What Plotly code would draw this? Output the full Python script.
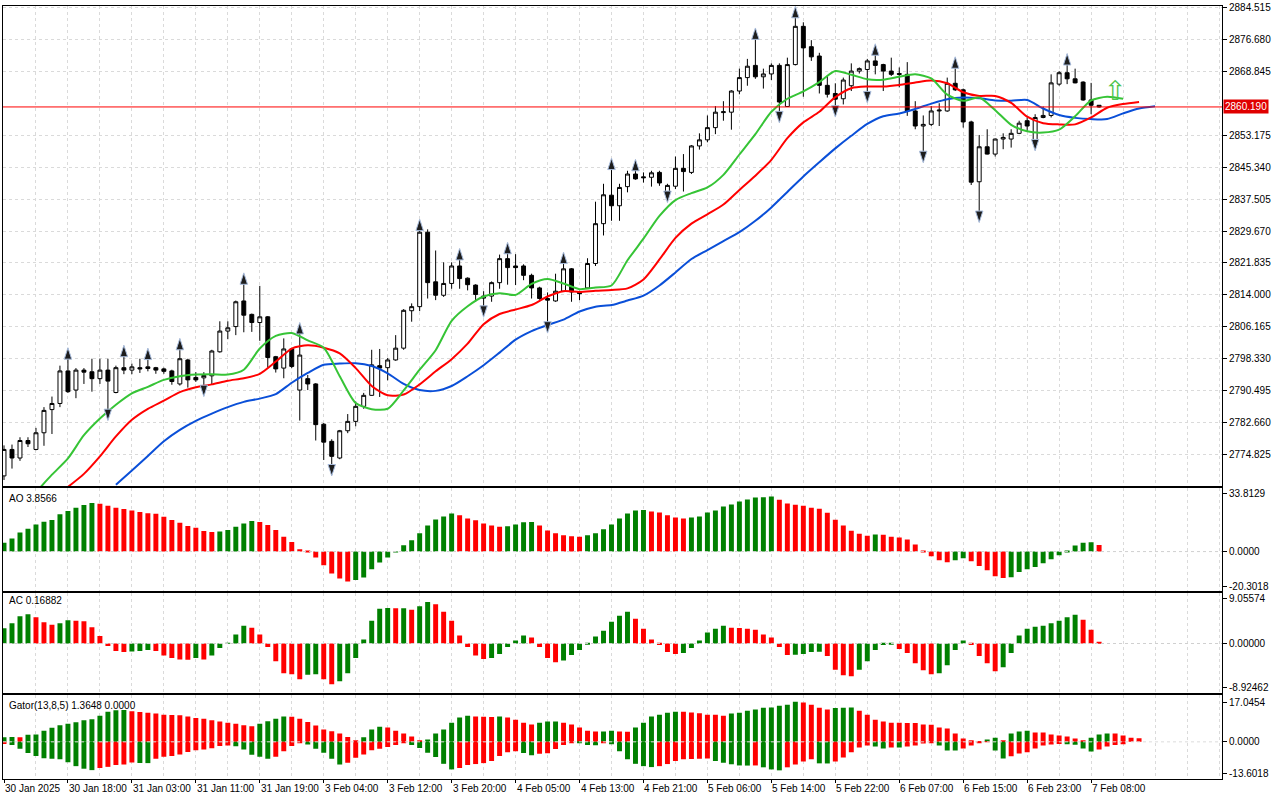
import plotly.graph_objects as go
from plotly.subplots import make_subplots

# hourly XAUUSD candles, bar 0 = 30 Jan 10:00
opens = [
    2769.5, 2776.0, 2773.9, 2778.2, 2776.0, 2780.1, 2785.8, 2787.3, 2795.3, 2790.6,
    2795.5, 2795.1, 2793.4, 2795.5, 2790.0, 2796.1, 2795.5, 2796.1, 2796.3, 2796.1,
    2795.8, 2795.3, 2792.1, 2798.0, 2793.7, 2793.6, 2794.1, 2800.0, 2805.1, 2806.2,
    2812.5, 2809.2, 2807.2, 2808.6, 2798.8, 2796.0, 2800.7, 2790.6, 2793.4, 2792.1,
    2782.2, 2778.0, 2773.9, 2780.6, 2782.9, 2786.6, 2789.3, 2796.6, 2796.1, 2798.0,
    2800.9, 2810.1, 2811.1, 2829.4, 2817.2, 2813.9, 2816.8, 2821.1, 2818.1, 2816.4,
    2813.2, 2813.7, 2817.0, 2822.9, 2821.1, 2821.1, 2818.8, 2815.7, 2813.1, 2812.5,
    2814.9, 2820.4, 2814.7, 2815.7, 2821.7, 2831.5, 2838.5, 2835.9, 2840.6, 2843.7,
    2843.0, 2842.9, 2844.1, 2839.4, 2840.7, 2845.1, 2844.1, 2850.6, 2852.1, 2855.1,
    2858.8, 2858.9, 2864.1, 2867.4, 2870.4, 2867.6, 2868.3, 2870.4, 2860.3, 2870.6,
    2880.0, 2875.0, 2872.7, 2865.5, 2863.5, 2862.2, 2865.4, 2869.0, 2869.4, 2871.5,
    2870.6, 2869.0, 2868.4, 2868.2, 2859.2, 2855.5, 2855.9, 2859.2, 2859.2, 2866.0,
    2864.4, 2856.5, 2841.8, 2850.4, 2848.6, 2852.3, 2852.3, 2853.7, 2856.8, 2851.6,
    2857.6, 2858.1, 2865.8, 2868.6, 2867.1, 2866.3, 2861.9, 2860.6,
]
highs = [
    2777.0, 2777.2, 2779.0, 2779.0, 2781.3, 2786.4, 2789.0, 2796.6, 2798.6, 2796.0,
    2796.0, 2798.3, 2798.3, 2798.3, 2796.6, 2799.2, 2797.1, 2798.3, 2798.5, 2796.3,
    2796.1, 2795.6, 2800.9, 2798.3, 2795.0, 2795.0, 2800.5, 2807.5, 2807.5, 2812.6,
    2817.0, 2809.4, 2816.2, 2808.8, 2799.0, 2803.3, 2801.0, 2804.8, 2794.3, 2792.3,
    2782.5, 2778.5, 2780.8, 2784.7, 2787.8, 2789.9, 2800.5, 2800.7, 2798.5, 2804.1,
    2810.5, 2811.9, 2830.2, 2830.1, 2824.9, 2822.0, 2822.0, 2823.0, 2818.3, 2816.6,
    2814.9, 2817.3, 2823.9, 2824.5, 2824.0, 2821.5, 2819.2, 2816.0, 2814.6, 2819.2,
    2822.1, 2820.6, 2815.0, 2823.0, 2836.9, 2841.3, 2845.2, 2841.3, 2844.5, 2844.9,
    2844.1, 2844.5, 2844.5, 2841.3, 2848.0, 2848.6, 2850.8, 2853.7, 2858.1, 2860.4,
    2861.6, 2864.3, 2869.6, 2872.0, 2877.2, 2869.6, 2870.9, 2870.9, 2872.3, 2882.5,
    2881.0, 2876.6, 2873.5, 2867.9, 2866.0, 2867.4, 2870.9, 2869.9, 2872.0, 2873.3,
    2870.8, 2872.3, 2869.9, 2871.2, 2861.6, 2858.1, 2860.4, 2861.1, 2867.4, 2870.1,
    2864.7, 2856.8, 2853.3, 2854.7, 2852.4, 2853.7, 2854.7, 2856.8, 2857.6, 2858.4,
    2860.3, 2868.2, 2869.0, 2870.9, 2869.6, 2866.5, 2866.1, 2860.6,
]
lows = [
    2768.5, 2771.3, 2773.2, 2776.6, 2775.8, 2776.9, 2779.8, 2786.4, 2789.9, 2788.6,
    2792.1, 2790.2, 2792.1, 2785.2, 2789.8, 2794.5, 2794.5, 2794.8, 2795.2, 2794.6,
    2794.6, 2791.9, 2791.7, 2791.2, 2792.6, 2791.1, 2791.9, 2799.8, 2803.1, 2804.1,
    2804.8, 2804.9, 2802.7, 2796.1, 2794.9, 2793.5, 2796.0, 2783.1, 2790.6, 2778.2,
    2773.4, 2771.6, 2773.6, 2780.0, 2781.7, 2786.0, 2789.2, 2788.9, 2793.0, 2797.8,
    2800.5, 2807.4, 2810.0, 2813.1, 2812.7, 2813.5, 2815.5, 2815.5, 2815.1, 2812.3,
    2810.6, 2812.3, 2815.5, 2816.5, 2816.4, 2817.6, 2813.1, 2812.8, 2806.7, 2812.3,
    2814.7, 2812.3, 2812.7, 2815.5, 2821.1, 2828.6, 2832.2, 2832.2, 2839.2, 2842.3,
    2841.6, 2840.6, 2840.8, 2838.8, 2840.0, 2839.4, 2843.7, 2849.7, 2851.5, 2853.5,
    2856.8, 2854.6, 2863.3, 2865.4, 2867.1, 2864.7, 2866.8, 2858.4, 2860.3, 2870.4,
    2862.7, 2871.5, 2863.5, 2862.5, 2859.8, 2860.8, 2864.1, 2868.4, 2863.3, 2868.2,
    2864.1, 2867.8, 2865.0, 2858.0, 2854.7, 2848.6, 2855.5, 2855.5, 2859.0, 2864.1,
    2855.1, 2841.0, 2833.9, 2848.5, 2848.0, 2849.8, 2850.2, 2853.5, 2854.3, 2851.5,
    2857.4, 2857.6, 2865.4, 2865.8, 2866.0, 2861.7, 2858.4, 2860.0,
]
closes = [
    2776.0, 2773.9, 2778.2, 2777.4, 2780.1, 2785.6, 2787.3, 2795.3, 2790.2, 2795.5,
    2795.0, 2793.4, 2795.5, 2792.8, 2796.1, 2795.5, 2796.3, 2795.8, 2795.9, 2795.5,
    2795.2, 2792.7, 2798.3, 2793.1, 2793.1, 2794.2, 2800.2, 2805.1, 2805.9, 2812.3,
    2809.0, 2807.2, 2808.6, 2798.6, 2795.8, 2800.7, 2796.4, 2799.2, 2792.1, 2782.1,
    2777.8, 2774.3, 2780.6, 2782.9, 2786.6, 2789.3, 2796.8, 2796.0, 2798.0, 2800.9,
    2810.2, 2811.1, 2829.4, 2817.0, 2813.9, 2816.8, 2821.1, 2818.0, 2816.5, 2814.1,
    2813.7, 2817.0, 2822.9, 2820.7, 2820.7, 2818.8, 2815.7, 2813.1, 2812.7, 2814.9,
    2820.4, 2814.7, 2814.3, 2821.7, 2831.5, 2838.6, 2835.9, 2840.4, 2843.7, 2842.5,
    2842.8, 2844.0, 2841.5, 2840.9, 2845.1, 2844.3, 2850.6, 2852.1, 2855.1, 2858.9,
    2859.0, 2864.1, 2867.4, 2870.2, 2867.6, 2868.3, 2870.4, 2861.4, 2870.6, 2880.0,
    2874.7, 2872.5, 2865.5, 2863.3, 2862.1, 2866.8, 2869.0, 2869.6, 2871.5, 2870.4,
    2869.0, 2868.2, 2868.2, 2859.2, 2855.5, 2855.9, 2859.2, 2859.4, 2866.0, 2864.4,
    2856.5, 2841.7, 2850.4, 2848.6, 2852.3, 2852.7, 2853.7, 2856.2, 2855.5, 2857.6,
    2858.1, 2866.1, 2868.6, 2867.1, 2866.1, 2861.9, 2860.6, 2860.19,
]
current_price = 2860.19

# alligator lines, one value every 2 bars (shifted lines run past the last candle)
lips_start = 4
lips = [
    2765.5, 2769.8, 2773.8, 2779.5, 2783.6, 2787.0, 2789.8, 2791.4, 2793.1, 2794.0,
    2794.4, 2794.5, 2794.4, 2795.6, 2800.8, 2803.9, 2804.6, 2802.8, 2801.0, 2794.0,
    2787.4, 2785.9, 2786.0, 2790.5, 2795.6, 2800.4, 2807.6, 2811.2, 2813.6, 2814.4,
    2814.0, 2816.7, 2817.9, 2816.8, 2815.4, 2815.8, 2816.3, 2822.5, 2827.8, 2833.4,
    2837.3, 2839.0, 2840.4, 2843.5, 2848.5, 2853.5, 2859.0, 2862.2, 2864.0, 2866.3,
    2869.0, 2868.1, 2867.0, 2866.9, 2867.6, 2868.2, 2867.2, 2863.2, 2861.7, 2862.5,
    2859.4, 2855.8, 2854.2, 2853.9, 2854.6, 2857.9, 2861.8, 2862.7, 2862.2,
]
teeth_start = 8
teeth = [
    2766.8, 2770.0, 2774.3, 2779.2, 2783.3, 2786.0, 2788.0, 2790.1, 2791.3, 2792.0,
    2792.9, 2793.5, 2794.6, 2797.6, 2800.8, 2801.6, 2801.0, 2799.6, 2796.0, 2791.6,
    2789.3, 2789.5, 2792.0, 2795.2, 2798.2, 2802.0, 2806.8, 2809.3, 2810.4, 2811.5,
    2813.6, 2814.9, 2814.7, 2815.0, 2815.2, 2815.6, 2817.8, 2822.7, 2828.0, 2831.5,
    2833.8, 2836.2, 2839.8, 2843.3, 2847.2, 2852.5, 2856.4, 2859.0, 2862.6, 2864.8,
    2865.2, 2865.2, 2865.6, 2866.2, 2866.7, 2866.0, 2863.8, 2862.9, 2862.9, 2861.2,
    2857.8, 2856.2, 2855.9, 2855.9, 2857.6, 2860.0, 2860.9, 2861.4,
]
jaw_start = 14
jaw = [
    2767.3, 2770.8, 2774.4, 2778.0, 2780.8, 2783.0, 2784.8, 2786.4, 2787.7, 2788.5,
    2789.6, 2792.4, 2794.8, 2796.8, 2797.1, 2797.2, 2796.5, 2794.7, 2792.1, 2790.6,
    2790.4, 2791.6, 2794.0, 2796.7, 2799.8, 2803.0, 2805.1, 2806.6, 2807.9, 2809.9,
    2811.1, 2811.5, 2812.6, 2813.8, 2816.3, 2819.5, 2822.8, 2825.0, 2827.2, 2829.4,
    2832.2, 2835.5, 2839.3, 2843.1, 2846.6, 2850.0, 2853.1, 2856.0, 2857.9, 2858.6,
    2859.7, 2861.0, 2862.1, 2862.5, 2862.3, 2861.8, 2861.7, 2861.9, 2859.8, 2858.2,
    2857.5, 2857.2, 2857.2, 2858.6, 2859.8, 2860.35,
]

fractal_up_bars = [8, 15, 18, 22, 30, 37, 52, 57, 63, 70, 76, 79, 94, 99, 109, 119, 133]
fractal_down_bars = [13, 25, 41, 60, 68, 83, 97, 104, 108, 115, 122, 129]
signal_bars = [139]
signal_prices = [2864.2]

ao = [
    5.2, 7.6, 11.1, 13.4, 15.9, 17.5, 18.5, 21.8, 23.7, 25.6,
    27.2, 28.4, 28.0, 26.8, 25.6, 24.9, 24.1, 23.1, 22.5, 22.2,
    20.4, 18.5, 16.9, 15.0, 14.0, 12.0, 11.5, 11.7, 12.6, 14.6,
    16.5, 17.9, 17.3, 15.5, 12.6, 8.7, 5.6, 1.4, 0.1, -3.5,
    -8.0, -12.8, -15.7, -17.5, -16.7, -15.2, -10.3, -6.4, -3.5, -0.4,
    3.7, 6.6, 10.7, 15.3, 18.8, 20.6, 22.3, 21.2, 19.4, 18.3,
    16.5, 15.3, 14.6, 14.8, 15.9, 17.1, 17.3, 15.3, 12.4, 10.7,
    9.5, 8.9, 8.7, 9.5, 10.7, 13.0, 15.9, 19.4, 22.3, 24.1,
    24.3, 23.5, 22.9, 21.2, 20.0, 19.4, 20.0, 20.6, 22.9, 24.1,
    26.4, 27.6, 29.3, 30.5, 31.7, 31.8, 32.3, 30.3, 28.2, 27.4,
    26.8, 25.6, 25.1, 22.7, 18.7, 15.2, 12.2, 10.5, 9.3, 10.0,
    9.8, 8.7, 8.2, 7.0, 4.1, 0.6, -2.7, -5.1, -6.2, -5.1,
    -3.9, -5.6, -8.5, -10.9, -14.4, -15.5, -15.0, -12.0, -10.3, -9.1,
    -6.8, -4.5, -2.1, 0.4, 3.5, 5.2, 5.4, 3.8566,
]
ac = [
    3.1, 4.1, 5.5, 5.9, 5.3, 4.3, 3.8, 4.1, 4.7, 4.6,
    4.5, 3.3, 1.5, -0.5, -1.5, -1.7, -1.6, -1.5, -1.3, -1.5,
    -2.4, -2.9, -3.2, -3.25, -2.9, -3.2, -2.4, -0.9, 0.1, 1.8,
    3.6, 3.2, 1.8, -0.7, -3.6, -6.0, -6.2, -7.2, -6.3, -6.2,
    -7.2, -8.2, -7.6, -6.0, -2.9, 0.8, 4.6, 7.0, 7.15, 7.1,
    7.12, 6.8, 7.5, 8.4, 7.9, 6.4, 4.6, 1.6, -0.7, -2.4,
    -3.1, -2.9, -2.1, -0.7, 0.6, 1.6, 1.2, -0.7, -2.9, -3.8,
    -3.4, -2.3, -1.3, -0.1, 1.4, 2.6, 4.4, 5.6, 6.4, 5.0,
    3.0, 0.8, -0.3, -1.7, -2.1, -1.9, -0.9, 0.6, 2.2, 3.0,
    3.6, 3.2, 3.15, 3.0, 2.8, 1.8, 1.2, -0.7, -2.3, -2.25,
    -2.1, -1.7, -1.65, -2.5, -5.3, -6.4, -6.6, -5.3, -3.6, -1.3,
    -0.3, -0.2, -1.1, -1.9, -4.0, -5.4, -6.2, -6.0, -4.4, -1.3,
    0.6, -0.3, -2.5, -4.0, -5.6, -4.8, -1.9, 1.6, 3.0, 3.4,
    3.6, 4.1, 4.6, 5.3, 5.8, 4.8, 2.8, 0.16882,
]
gator_upper = [
    2.0, 2.05, 1.95, 3.0, 3.1, 4.8, 6.0, 7.1, 7.8, 8.4,
    9.2, 9.7, 11.2, 12.9, 13.5, 13.6, 13.1, 12.8, 12.5, 12.1,
    11.6, 11.5, 11.4, 10.9, 10.2, 9.9, 9.2, 8.7, 8.2, 7.8,
    7.1, 6.7, 7.8, 8.8, 9.9, 10.8, 10.7, 9.9, 8.5, 7.0,
    5.3, 4.5, 3.6, 2.1, 0.6, 2.0, 5.3, 6.5, 6.1, 4.8,
    3.6, 2.3, 0.6, 1.0, 3.6, 5.3, 8.2, 10.4, 11.2, 10.8,
    10.75, 10.65, 10.8, 10.4, 9.5, 8.2, 7.4, 8.2, 8.7, 8.75,
    8.2, 7.4, 6.1, 4.8, 4.4, 4.45, 4.8, 4.4, 4.35, 6.1,
    8.2, 10.8, 11.6, 12.5, 12.9, 12.85, 12.6, 12.2, 11.6, 11.55,
    11.2, 12.1, 12.5, 13.3, 13.8, 14.6, 14.7, 15.5, 15.9, 17.2,
    16.8, 15.9, 14.6, 13.8, 14.5, 14.6, 14.7, 13.3, 11.6, 9.5,
    8.7, 8.2, 8.15, 8.1, 8.05, 7.4, 7.35, 6.1, 5.7, 3.6,
    1.4, 0.6, 0.15, 1.0, 1.8, 0.6, 3.6, 4.4, 4.8, 4.0,
    3.95, 3.1, 2.7, 2.3, 1.4, 0.6, 1.8, 3.1, 3.6, 3.55,
    2.7, 1.8, 1.5,
]
gator_lower = [
    -0.9, -1.4, -3.0, -4.8, -6.1, -7.0, -7.2, -7.4, -8.7, -10.4,
    -11.5, -12.1, -11.2, -10.7, -9.9, -9.7, -8.8, -9.0, -9.1, -7.2,
    -6.4, -6.1, -5.4, -4.3, -3.6, -3.3, -2.7, -1.8, -1.6, -1.85,
    -3.3, -5.5, -6.4, -7.2, -6.4, -4.0, -1.8, -0.4, -1.1, -3.0,
    -4.7, -7.2, -9.7, -8.9, -6.8, -5.4, -3.6, -2.9, -2.2, -1.4,
    -0.5, -1.4, -2.6, -4.7, -6.5, -9.4, -11.8, -11.2, -9.9, -9.5,
    -9.1, -8.2, -6.1, -4.4, -4.0, -4.8, -5.7, -5.1, -4.9, -3.1,
    -1.4, -0.3, -0.4, -1.4, -1.45, -0.5, -1.0, -4.0, -7.4, -9.4,
    -10.4, -10.8, -10.4, -9.5, -8.2, -7.4, -7.3, -7.2, -7.1, -8.2,
    -8.9, -9.6, -10.1, -10.15, -10.1, -10.9, -11.8, -12.2, -10.9, -9.7,
    -8.4, -7.5, -9.2, -9.25, -8.4, -6.7, -4.5, -2.4, -1.6, -2.0,
    -2.8, -2.4, -2.45, -2.0, -1.6, -0.7, -0.3, -1.6, -3.7, -3.75,
    -2.8, -1.6, -0.3, -0.15, -3.7, -7.1, -6.2, -5.0, -4.5, -2.8,
    -1.6, -1.1, -0.9, -1.0, -1.2, -2.8, -4.1, -3.3, -2.0, -1.3,
    -1.0,
]

time_labels = [
    "30 Jan 2025", "30 Jan 18:00", "31 Jan 03:00", "31 Jan 11:00", "31 Jan 19:00",
    "3 Feb 04:00", "3 Feb 12:00", "3 Feb 20:00", "4 Feb 05:00", "4 Feb 13:00",
    "4 Feb 21:00", "5 Feb 06:00", "5 Feb 14:00", "5 Feb 22:00", "6 Feb 07:00",
    "6 Feb 15:00", "6 Feb 23:00", "7 Feb 08:00",
]
price_ticks = [2884.515, 2876.680, 2868.845, 2853.175, 2845.340, 2837.505, 2829.670,
               2821.835, 2814.000, 2806.165, 2798.330, 2790.495, 2782.660, 2774.825]
ao_ticks = [33.8129, 0.0, -20.3018]
ac_ticks = [9.05574, 0.0, -8.92462]
gator_ticks = [17.0454, 0.0, -13.6018]

GREEN = "#008000"
RED = "#ff0000"
FONT = "Liberation Sans"


def rising_colors(values, first="up"):
    out = [GREEN if first == "up" else RED]
    for prev, cur in zip(values, values[1:]):
        out.append(GREEN if cur > prev else RED)
    return out


def widening_colors(values, first="up"):
    out = [GREEN if first == "up" else RED]
    for prev, cur in zip(values, values[1:]):
        out.append(GREEN if abs(cur) > abs(prev) else RED)
    return out


def line_x(start, vals):
    return list(range(start, start + 2 * len(vals), 2))


bars = list(range(len(closes)))
label_bars = [8 * k for k in range(len(time_labels))]
grid_bars = list(range(0, 153, 4))

fig = make_subplots(rows=4, cols=1, shared_xaxes=True, vertical_spacing=0.0)

fig.add_trace(
    go.Candlestick(
        x=bars, open=opens, high=highs, low=lows, close=closes,
        increasing={"fillcolor": "white", "line": {"color": "black", "width": 1}},
        decreasing={"fillcolor": "black", "line": {"color": "black", "width": 1}},
        whiskerwidth=0,
    ),
    row=1, col=1,
)
for start, vals, color in [
    (jaw_start, jaw, "#0a4fd8"),
    (teeth_start, teeth, "#ff0000"),
    (lips_start, lips, "#36c436"),
]:
    fig.add_trace(
        go.Scatter(x=line_x(start, vals), y=vals, mode="lines",
                   line={"color": color, "width": 2, "shape": "spline", "smoothing": 0.7}),
        row=1, col=1,
    )

fractal_marker = {"symbol": "arrow", "size": 12, "color": "#1e1e1e",
                  "line": {"color": "#a8bcdc", "width": 1}}
fig.add_trace(
    go.Scatter(x=fractal_up_bars, y=[highs[b] + 2.4 for b in fractal_up_bars], mode="markers",
               marker={**fractal_marker, "angle": 0}),
    row=1, col=1,
)
fig.add_trace(
    go.Scatter(x=fractal_down_bars, y=[lows[b] - 2.1 for b in fractal_down_bars], mode="markers",
               marker={**fractal_marker, "angle": 180}),
    row=1, col=1,
)

fig.add_trace(go.Bar(x=bars, y=ao, marker_color=rising_colors(ao), marker_line_width=0, width=0.62),
              row=2, col=1)
fig.add_trace(go.Bar(x=bars, y=ac, marker_color=rising_colors(ac), marker_line_width=0, width=0.62),
              row=3, col=1)
fig.add_trace(go.Bar(x=list(range(len(gator_upper))), y=gator_upper,
                     marker_color=widening_colors(gator_upper), marker_line_width=0, width=0.62),
              row=4, col=1)
fig.add_trace(go.Bar(x=list(range(len(gator_lower))), y=gator_lower,
                     marker_color=widening_colors(gator_lower, "down"), marker_line_width=0, width=0.62),
              row=4, col=1)

fig.add_hline(y=current_price, line_color="#ff0000", line_width=1, row=1, col=1)
for r, lc in [(2, "#d0d0d0"), (3, "#d0d0d0"), (4, "#dcdcdc")]:
    fig.add_hline(y=0, line_color=lc, line_width=1, line_dash="3px,3px", layer="above", row=r, col=1)

grid = {"showgrid": True, "gridcolor": "#dadada", "griddash": "3px,3px", "gridwidth": 1}
axis_frame = {"showline": True, "mirror": True, "linecolor": "black", "linewidth": 1, "zeroline": False}

fig.update_xaxes(
    range=[-0.125, 152.375], tickvals=label_bars, showticklabels=False, ticks="",
    minor={"tickvals": grid_bars, **grid}, rangeslider_visible=False, **grid, **axis_frame,
)
fig.update_xaxes(ticks="outside", ticklen=3, tickcolor="black", row=4, col=1)

tick_font = {"family": FONT, "size": 10, "color": "black"}
fig.update_yaxes(side="right", ticks="outside", ticklen=4, tickcolor="black",
                 tickfont=tick_font, ticklabeloverflow="allow", **axis_frame)
fig.update_yaxes(range=[2766.99, 2885.0], tickvals=price_ticks,
                 ticktext=[f"{v:.3f}" for v in price_ticks], domain=[0.3789, 1.0],
                 **grid, row=1, col=1)
fig.update_yaxes(range=[-22.9, 36.96], tickvals=ao_ticks,
                 ticktext=["33.8129", "0.0000", "-20.3018"], domain=[0.2436, 0.3759],
                 showgrid=False, row=2, col=1)
fig.update_yaxes(range=[-9.99, 10.25], tickvals=ac_ticks,
                 ticktext=["9.05574", "0.00000", "-8.92462"], domain=[0.1112, 0.2410],
                 showgrid=False, row=3, col=1)
fig.update_yaxes(range=[-15.9, 19.9], tickvals=gator_ticks,
                 ticktext=["17.0454", "0.0000", "-13.6018"], domain=[0.0, 0.1082],
                 showgrid=False, row=4, col=1)

annotations = []
for b, text in zip(label_bars, time_labels):
    annotations.append({
        "x": b, "xref": "x4", "y": -0.0118, "yref": "paper", "text": text,
        "showarrow": False, "xanchor": "left", "yanchor": "middle", "xshift": -1,
        "font": {"family": FONT, "size": 10, "color": "black"},
    })
for text, ypos in [("AO 3.8566", 0.3634), ("AC 0.16882", 0.2307),
                   ("Gator(13,8,5) 1.3648 0.0000", 0.0954)]:
    annotations.append({
        "x": 0.003, "xref": "paper", "y": ypos, "yref": "paper", "text": text,
        "showarrow": False, "xanchor": "left", "yanchor": "middle",
        "font": {"family": FONT, "size": 10, "color": "black"},
    })
annotations.append({
    "x": 1.0, "xref": "paper", "y": current_price, "yref": "y", "text": f"{current_price:.3f}",
    "showarrow": False, "xanchor": "left", "yanchor": "middle", "xshift": 1,
    "bgcolor": "#e00000", "borderpad": 1,
    "font": {"family": FONT, "size": 10, "color": "white"},
})
for b, p in zip(signal_bars, signal_prices):
    annotations.append({
        "x": b, "xref": "x", "y": p, "yref": "y", "text": "\u21e7", "showarrow": False,
        "font": {"family": "DejaVu Sans", "size": 27, "color": "#4cc44c"},
    })

fig.update_layout(
    width=1280, height=800,
    margin={"l": 2, "r": 58, "t": 3, "b": 21},
    paper_bgcolor="white", plot_bgcolor="white",
    showlegend=False, hovermode=False, barmode="overlay",
    annotations=annotations,
    font={"family": FONT, "size": 10, "color": "black"},
)

# page body has a default 8px margin; drop it so the chart sits at the window origin
fig.write_html(
    "out.html",
    config={"displayModeBar": False},
    post_script="document.body.style.margin = '0';",
)
